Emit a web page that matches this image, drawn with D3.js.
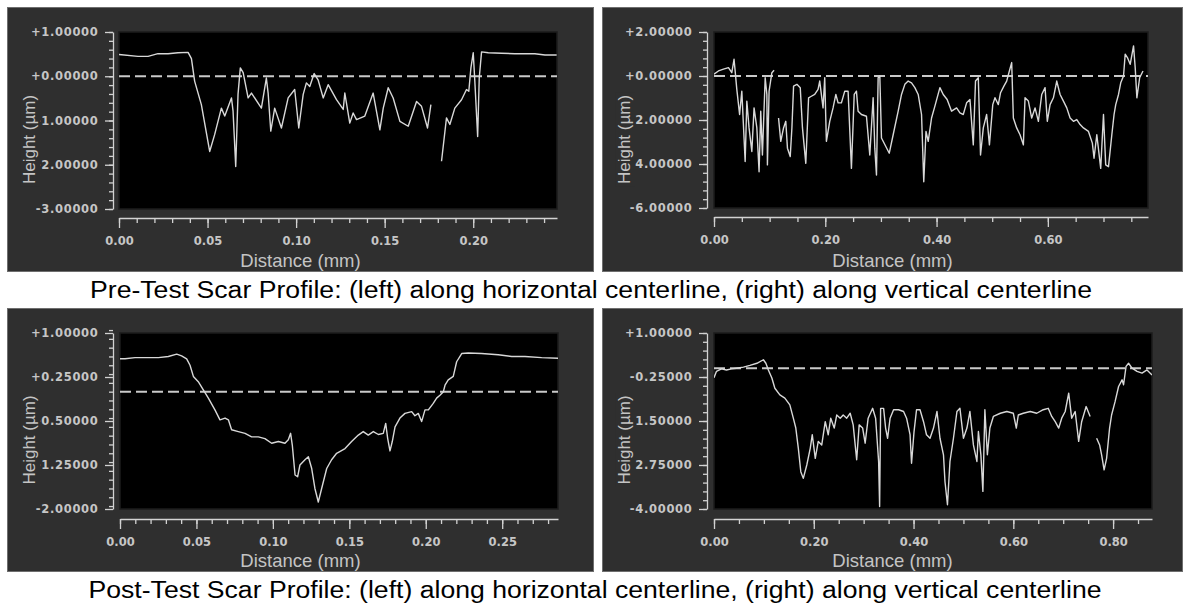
<!DOCTYPE html>
<html><head><meta charset="utf-8">
<script src="https://cdn.jsdelivr.net/npm/d3@7/dist/d3.min.js"></script>
<style>
html,body{margin:0;padding:0;background:#fff;}
svg{display:block;}
</style></head><body>
<svg id="c" width="1183" height="607"></svg>
<script>
// ---------------- DATA ----------------
// Pre-test, horizontal centerline (null = gap in the trace)
const preHorizDist = [0.0000,0.0107,0.0164,0.0220,0.0277,0.0333,0.0390,0.0409,0.0427,0.0465,0.0512,0.0540,0.0578,0.0597,0.0635,0.0644,0.0659,0.0672,0.0685,0.0701,0.0729,0.0748,0.0804,0.0832,0.0842,0.0857,0.0879,0.0917,0.0955,0.0992,0.1015,0.1040,0.1058,0.1077,0.1102,0.1124,0.1153,0.1181,0.1228,0.1266,0.1275,0.1303,0.1322,0.1341,0.1388,0.1435,0.1473,0.1492,0.1520,0.1548,0.1586,0.1633,0.1680,0.1708,0.1742,0.1761,0.1790,0.1821,0.1849,0.1868,0.1896,0.1934,0.1962,0.1975,0.1987,0.2000,0.2009,0.2025,0.2034,0.2047,0.2085,0.2160,0.2235,0.2348,0.2405,0.2471];
const preHorizHeight = [0.49,0.45,0.45,0.51,0.51,0.53,0.54,0.40,-0.11,-0.64,-1.70,-1.32,-0.72,-0.90,-0.49,-0.79,-2.04,-0.41,0.19,0.08,-0.49,-0.38,-0.72,-0.04,-0.38,-1.24,-0.72,-1.17,-0.49,-0.30,-1.17,-0.41,-0.15,-0.23,0.06,-0.08,-0.49,-0.19,-0.53,-0.75,-0.38,-1.06,-0.83,-0.98,-0.90,-0.38,-1.21,-0.72,-0.26,-0.49,-1.02,-1.13,-0.57,-0.68,-1.17,-0.64,null,-1.92,-0.94,-1.09,-0.72,-0.53,-0.30,-0.34,0.19,0.53,-0.11,-1.36,-0.04,0.55,0.53,0.52,0.51,0.51,0.48,0.48];
const preHorizYTicks = [1,0,-1,-2,-3];
const preHorizYLabels = ["+1.00000","+0.00000","-1.00000","-2.00000","-3.00000"];
const preHorizXTicks = [0,0.05,0.10,0.15,0.20];
const preHorizXLabels = ["0.00","0.05","0.10","0.15","0.20"];

// Pre-test, vertical centerline
const preVertDist = [0.000,0.008,0.017,0.026,0.032,0.036,0.038,0.041,0.046,0.050,0.056,0.059,0.063,0.068,0.072,0.077,0.081,0.084,0.087,0.092,0.095,0.096,0.099,0.104,0.108,0.112,0.116,0.120,0.125,0.129,0.132,0.137,0.140,0.143,0.149,0.155,0.159,0.165,0.170,0.175,0.181,0.187,0.190,0.196,0.199,0.202,0.208,0.214,0.219,0.223,0.229,0.235,0.241,0.247,0.252,0.256,0.259,0.265,0.274,0.280,0.286,0.289,0.292,0.295,0.298,0.301,0.315,0.322,0.331,0.337,0.343,0.349,0.355,0.361,0.367,0.373,0.377,0.381,0.385,0.391,0.397,0.406,0.412,0.419,0.427,0.436,0.442,0.448,0.454,0.460,0.466,0.470,0.475,0.479,0.484,0.490,0.495,0.501,0.505,0.511,0.515,0.521,0.526,0.530,0.535,0.538,0.544,0.550,0.556,0.559,0.565,0.571,0.577,0.583,0.589,0.595,0.599,0.604,0.610,0.616,0.622,0.628,0.634,0.640,0.646,0.652,0.658,0.664,0.673,0.680,0.683,0.688,0.695,0.700,0.704,0.709,0.715,0.719,0.722,0.727,0.731,0.736,0.739,0.743,0.748,0.754,0.757,0.760,0.765,0.771];
const preVertHeight = [0.08,0.23,0.31,0.38,0.15,0.76,0.23,-0.61,-1.75,-0.69,-3.89,-1.14,-2.36,-3.43,-1.45,-2.36,-4.35,-1.60,-3.59,-0.08,-0.84,-4.04,-0.69,0.15,0.26,null,-1.91,-2.97,-2.36,-2.06,-3.28,-3.66,-2.36,-0.46,-0.38,-0.53,-2.36,-3.97,-0.99,-0.92,-0.84,-0.61,-0.23,-1.45,-0.08,-2.97,-2.06,-1.45,-0.84,-1.22,-1.22,-0.69,-0.69,-4.20,-0.84,-0.69,-1.60,-1.75,-1.83,-3.59,-0.99,-3.28,-4.50,-0.08,0.00,-2.82,-3.51,-2.67,-1.60,-0.84,-0.38,-0.23,-0.31,-0.53,-0.84,-1.75,-4.81,-2.52,-2.97,-1.91,-1.37,-0.53,-0.84,-1.07,-1.60,-1.45,-1.68,-1.75,-1.22,-1.07,-3.13,-0.23,-0.08,-3.59,-2.36,-1.75,-3.13,-1.30,-0.99,-1.30,-0.76,-0.46,-0.23,0.15,0.61,-1.91,-2.36,-2.67,-3.13,-0.99,-1.14,-1.91,-1.45,-2.06,-0.84,-0.53,-2.06,-1.30,-0.99,-0.23,-0.84,-1.14,-1.45,-1.91,-2.06,-1.98,-2.21,-2.36,-2.52,-3.05,-3.74,-2.67,-4.20,-1.75,-4.04,-4.12,-2.67,-1.75,-1.30,-0.84,-0.31,0.00,0.99,0.84,0.53,1.37,0.38,-0.99,-0.08,0.23];
const preVertYTicks = [2,0,-2,-4,-6];
const preVertYLabels = ["+2.00000","+0.00000","-2.00000","-4.00000","-6.00000"];
const preVertXTicks = [0,0.2,0.4,0.6];
const preVertXLabels = ["0.00","0.20","0.40","0.60"];

// Post-test, horizontal centerline
const postHorizDist = [0.0000,0.0033,0.0098,0.0185,0.0251,0.0316,0.0371,0.0403,0.0436,0.0458,0.0480,0.0512,0.0545,0.0578,0.0621,0.0654,0.0687,0.0709,0.0730,0.0774,0.0818,0.0861,0.0905,0.0948,0.0992,0.1036,0.1079,0.1101,0.1116,0.1127,0.1145,0.1162,0.1177,0.1210,0.1232,0.1254,0.1275,0.1297,0.1319,0.1352,0.1384,0.1417,0.1472,0.1515,0.1559,0.1591,0.1624,0.1657,0.1690,0.1722,0.1738,0.1751,0.1766,0.1781,0.1799,0.1831,0.1864,0.1908,0.1929,0.1951,0.1973,0.1995,0.2017,0.2049,0.2071,0.2093,0.2115,0.2126,0.2147,0.2180,0.2202,0.2235,0.2278,0.2365,0.2474,0.2562,0.2649,0.2758,0.2867];
const postHorizHeight = [0.56,0.56,0.58,0.58,0.58,0.60,0.64,0.61,0.56,0.45,0.26,0.17,0.03,-0.11,-0.31,-0.48,-0.45,-0.48,-0.65,-0.68,-0.71,-0.77,-0.77,-0.80,-0.88,-0.85,-0.88,-0.82,-0.71,-0.91,-1.42,-1.45,-1.25,-1.16,-1.11,-1.31,-1.65,-1.88,-1.65,-1.31,-1.16,-1.05,-0.97,-0.85,-0.74,-0.68,-0.74,-0.68,-0.73,-0.71,-0.54,-0.80,-1.01,-0.85,-0.60,-0.45,-0.37,-0.34,-0.41,-0.37,-0.51,-0.31,-0.31,-0.20,-0.11,-0.06,0.00,0.11,0.20,0.26,0.51,0.65,0.66,0.65,0.63,0.60,0.60,0.58,0.57];
const postHorizYTicks = [1,0.25,-0.5,-1.25,-2];
const postHorizYLabels = ["+1.00000","+0.25000","-0.50000","-1.25000","-2.00000"];
const postHorizXTicks = [0,0.05,0.10,0.15,0.20,0.25];
const postHorizXLabels = ["0.00","0.05","0.10","0.15","0.20","0.25"];

// Post-test, vertical centerline
const postVertDist = [0.000,0.005,0.015,0.025,0.035,0.045,0.059,0.072,0.086,0.099,0.104,0.109,0.116,0.122,0.132,0.142,0.152,0.159,0.164,0.169,0.174,0.179,0.186,0.193,0.197,0.203,0.209,0.216,0.223,0.229,0.234,0.241,0.246,0.253,0.259,0.266,0.273,0.279,0.286,0.291,0.298,0.303,0.309,0.318,0.324,0.330,0.332,0.334,0.340,0.344,0.348,0.353,0.360,0.370,0.380,0.386,0.393,0.396,0.401,0.406,0.413,0.420,0.426,0.433,0.440,0.447,0.453,0.460,0.463,0.468,0.473,0.480,0.487,0.493,0.500,0.507,0.513,0.520,0.527,0.530,0.535,0.539,0.543,0.548,0.553,0.560,0.574,0.587,0.600,0.606,0.610,0.620,0.634,0.647,0.660,0.670,0.677,0.684,0.691,0.697,0.704,0.711,0.717,0.724,0.731,0.737,0.746,0.754,0.760,0.767,0.773,0.777,0.782,0.787,0.793,0.797,0.804,0.811,0.818,0.821,0.826,0.831,0.838,0.848,0.858,0.868,0.878];
const postVertHeight = [-0.27,-0.09,-0.02,-0.05,-0.02,0.00,0.03,0.08,0.14,0.24,0.14,-0.05,-0.28,-0.57,-0.76,-0.85,-1.04,-1.42,-1.70,-2.27,-2.94,-3.13,-2.75,-2.27,-1.89,-2.56,-2.08,-2.18,-1.52,-1.89,-1.42,-1.70,-1.33,-1.42,-1.33,-1.42,-1.28,-1.61,-2.60,-1.61,-1.70,-2.13,-1.42,-1.14,-1.42,-2.65,-3.93,-1.14,-1.14,-1.70,-1.99,-1.42,-1.18,-1.18,-1.23,-1.42,-1.89,-2.70,-1.80,-1.18,-1.18,-1.52,-1.89,-1.99,-1.70,-1.23,-1.99,-2.46,-3.22,-3.88,-2.65,-1.99,-1.23,-1.14,-1.99,-1.70,-1.23,-2.18,-2.65,-1.80,-2.46,-3.50,-1.18,-2.46,-1.70,-1.37,-1.28,-1.23,-1.28,-1.70,-1.33,-1.28,-1.23,-1.28,-1.18,-1.14,-1.37,-1.52,-1.70,-1.42,-1.23,-0.71,-1.42,-1.23,-2.08,-1.52,-1.09,-1.37,null,-1.99,-2.18,-2.46,-2.89,-2.56,-1.70,-1.33,-0.95,-0.52,-0.33,-0.47,0.05,0.14,0.00,-0.09,-0.14,-0.05,-0.19];
const postVertYTicks = [1,-0.25,-1.5,-2.75,-4];
const postVertYLabels = ["+1.00000","-0.25000","-1.50000","-2.75000","-4.00000"];
const postVertXTicks = [0,0.2,0.4,0.6,0.8];
const postVertXLabels = ["0.00","0.20","0.40","0.60","0.80"];

const xAxisTitle = "Distance (mm)";
const yAxisTitle = "Height (\u00b5m)";
const captionTexts = [
  "Pre-Test Scar Profile: (left) along horizontal centerline, (right) along vertical centerline",
  "Post-Test Scar Profile: (left) along horizontal centerline, (right) along vertical centerline"
];

// ---------------- LAYOUT ----------------
const panels = [
  {dist:preHorizDist, h:preHorizHeight, yt:preHorizYTicks, yl:preHorizYLabels, xt:preHorizXTicks, xl:preHorizXLabels,
   xDom:[0,0.2473], yDom:[-3,1], xMinor:0.01, yMinor:0.2,
   box:[7,7,594,272], plot:[119,557,32,209], axX:113, axY:218},
  {dist:preVertDist, h:preVertHeight, yt:preVertYTicks, yl:preVertYLabels, xt:preVertXTicks, xl:preVertXLabels,
   xDom:[0,0.78], yDom:[-6,2], xMinor:0.05, yMinor:0.4,
   box:[602,7,1183,272], plot:[714,1148,32,208], axX:707, axY:217},
  {dist:postHorizDist, h:postHorizHeight, yt:postHorizYTicks, yl:postHorizYLabels, xt:postHorizXTicks, xl:postHorizXLabels,
   xDom:[0,0.2865], yDom:[-2,1], xMinor:0.01, yMinor:0.15,
   box:[7,308,594,572], plot:[120,558,333,509], axX:113, axY:519},
  {dist:postVertDist, h:postVertHeight, yt:postVertYTicks, yl:postVertYLabels, xt:postVertXTicks, xl:postVertXLabels,
   xDom:[0,0.878], yDom:[-4,1], xMinor:0.05, yMinor:0.25,
   box:[602,308,1183,572], plot:[714,1152,333,509], axX:707, axY:519}
];

const PANEL_BG = "#2f2f2f";
const AXIS_C = "#d2d2d2";
const TICK_TXT = "#c6c6c6";
const svg = d3.select("#c");
svg.append("rect").attr("width",1183).attr("height",607).attr("fill","#fff");

panels.forEach((p, pi) => {
  const [bx0, by0, bx1, by1] = p.box;
  const [px0, px1, py0, py1] = p.plot;
  const g = svg.append("g");
  g.append("rect").attr("x",bx0+0.5).attr("y",by0+0.5).attr("width",bx1-bx0-1).attr("height",by1-by0-1)
    .attr("fill",PANEL_BG).attr("stroke","#6e6e6e").attr("stroke-width",1);
  g.append("rect").attr("x",px0).attr("y",py0).attr("width",px1-px0).attr("height",py1-py0)
    .attr("fill","#000").attr("stroke","#1c1c1c").attr("stroke-width",1.5);

  const x = d3.scaleLinear().domain(p.xDom).range([px0, px1]);
  const y = d3.scaleLinear().domain(p.yDom).range([py1, py0]);

  const clipId = "clip"+pi;
  svg.append("clipPath").attr("id",clipId).append("rect")
    .attr("x",px0).attr("y",py0).attr("width",px1-px0).attr("height",py1-py0);

  // zero reference
  g.append("line").attr("x1",px0).attr("x2",px1).attr("y1",y(0)).attr("y2",y(0))
    .attr("stroke","#c9c9c9").attr("stroke-width",2).attr("stroke-dasharray","11,5");

  const pts = p.dist.map((d,i)=>[d, p.h[i]]);
  const line = d3.line().defined(d=>d[1]!==null).x(d=>x(d[0])).y(d=>y(d[1]));
  g.append("path").datum(pts).attr("d",line).attr("clip-path",`url(#${clipId})`)
    .attr("fill","none").attr("stroke","#d8d8d8").attr("stroke-width",1.4).attr("stroke-linejoin","round");

  // y axis minor
  const ym = d3.range(Math.round(p.yDom[0]/p.yMinor), Math.round(p.yDom[1]/p.yMinor)+1).map(k=>k*p.yMinor);
  const yMinAx = g.append("g").attr("transform",`translate(${p.axX},0)`)
    .call(d3.axisLeft(y).tickValues(ym).tickSize(4).tickFormat(""));
  yMinAx.select(".domain").remove();
  // y axis major
  const yAx = g.append("g").attr("transform",`translate(${p.axX},0)`)
    .call(d3.axisLeft(y).tickValues(p.yt).tickFormat((d,i)=>p.yl[i]).tickSize(8).tickPadding(6.5).tickSizeOuter(0));
  yAx.selectAll("text").attr("font-family","DejaVu Sans").attr("font-weight","bold").attr("font-size",11.5)
    .attr("letter-spacing","0.7px").attr("fill",TICK_TXT);

  // x axis minor
  const xm = d3.range(0, Math.floor(p.xDom[1]/p.xMinor+1e-6)+1).map(k=>k*p.xMinor);
  const xMinAx = g.append("g").attr("transform",`translate(0,${p.axY})`)
    .call(d3.axisBottom(x).tickValues(xm).tickSize(5).tickFormat(""));
  xMinAx.select(".domain").remove();
  const xAx = g.append("g").attr("transform",`translate(0,${p.axY})`)
    .call(d3.axisBottom(x).tickValues(p.xt).tickFormat((d,i)=>p.xl[i]).tickSize(10).tickPadding(8.5).tickSizeOuter(0));
  xAx.selectAll("text").attr("font-family","DejaVu Sans").attr("font-weight","bold").attr("font-size",11.5)
    .attr("fill",TICK_TXT);

  g.selectAll(".domain, .tick line").attr("stroke",AXIS_C).attr("stroke-width",1.3);

  // y title with opaque backdrop (hides the sign of neighbouring labels, as in the original)
  const cy = (by0+by1)/2;
  const tx = bx0 + 27.5;
  g.append("rect").attr("x",tx-14).attr("y",cy-47).attr("width",19.5).attr("height",94).attr("fill",PANEL_BG);
  g.append("text").attr("transform",`translate(${tx},${cy}) rotate(-90)`)
    .attr("text-anchor","middle").attr("font-family","Liberation Sans, Arial, sans-serif")
    .attr("font-size",17).attr("fill","#c4c4c4").text(yAxisTitle);

  // x title centered on panel
  g.append("text").attr("x",(bx0+bx1)/2).attr("y",by1-5)
    .attr("text-anchor","middle").attr("font-family","Liberation Sans, Arial, sans-serif")
    .attr("font-size",18.5).attr("fill","#c4c4c4").text(xAxisTitle);
});

// captions
const capY = [297.5, 598];
const capX = [591, 595];
const capW = [1002, 1013];
captionTexts.forEach((t,i)=>{
  svg.append("text").attr("x",capX[i]).attr("y",capY[i]).attr("text-anchor","middle")
    .attr("font-family","Liberation Sans, Arial, sans-serif").attr("font-size",23.5).attr("fill","#000")
    .attr("textLength",capW[i]).attr("lengthAdjust","spacingAndGlyphs").text(t);
});
</script>
</body></html>
